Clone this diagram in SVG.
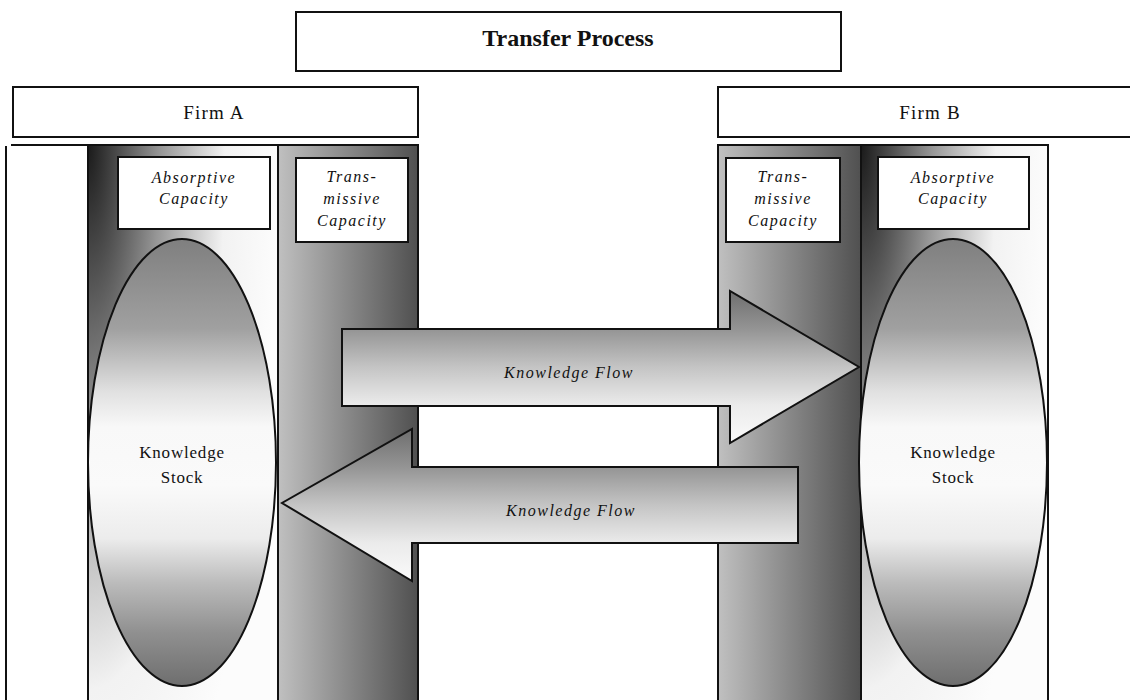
<svg xmlns="http://www.w3.org/2000/svg" width="1130" height="700" viewBox="0 0 1130 700">
<defs>
<style>
.box{fill:#fff;stroke:#111;stroke-width:2}
.col{stroke:#111;stroke-width:2}
.t{font-family:"Liberation Serif","Times New Roman",serif;fill:#111;text-anchor:middle}
.it{font-style:italic;font-size:16px;letter-spacing:1.5px}
.rg{font-size:17px;letter-spacing:0.8px}
.firm{font-size:19px;letter-spacing:1.2px}
.title{font-size:24px;font-weight:bold}
.flow{fill:url(#gArrow);stroke:#111;stroke-width:2;stroke-linejoin:miter}
.stock{fill:url(#gStock);stroke:#111;stroke-width:2}
</style>
<radialGradient id="gAbs" cx="0" cy="0" r="1" fx="0" fy="0" gradientTransform="scale(1,1.35)">
<stop offset="0" stop-color="#1a1a1a"/>
<stop offset="0.17" stop-color="#505050"/>
<stop offset="0.38" stop-color="#969696"/>
<stop offset="0.59" stop-color="#d0d0d0"/>
<stop offset="0.72" stop-color="#f2f2f2"/>
<stop offset="1" stop-color="#fcfcfc"/>
</radialGradient>
<linearGradient id="gTrans" x1="0" y1="0" x2="1" y2="0">
<stop offset="0" stop-color="#c0c0c0"/>
<stop offset="1" stop-color="#505050"/>
</linearGradient>
<linearGradient id="gStock" x1="0" y1="0" x2="0" y2="1">
<stop offset="0" stop-color="#7f7f7f"/>
<stop offset="0.2" stop-color="#a0a0a0"/>
<stop offset="0.34" stop-color="#e0e0e0"/>
<stop offset="0.42" stop-color="#f8f8f8"/>
<stop offset="0.55" stop-color="#fafafa"/>
<stop offset="0.67" stop-color="#ececec"/>
<stop offset="0.77" stop-color="#bbbbbb"/>
<stop offset="0.88" stop-color="#909090"/>
<stop offset="1" stop-color="#6e6e6e"/>
</linearGradient>
<linearGradient id="gArrow" x1="0" y1="0" x2="0" y2="1">
<stop offset="0" stop-color="#6e6e6e"/>
<stop offset="0.25" stop-color="#949494"/>
<stop offset="0.5" stop-color="#c4c4c4"/>
<stop offset="0.75" stop-color="#ebebeb"/>
<stop offset="1" stop-color="#fafafa"/>
</linearGradient>
</defs>
<rect width="1130" height="700" fill="#fff"/>

<g id="transfer-process">
<rect class="box" x="296" y="12" width="545" height="59"/>
<text class="t title" x="568" y="46">Transfer Process</text>
</g>

<g id="frame">
<line x1="6" y1="146" x2="6" y2="700" stroke="#111" stroke-width="2"/>
<line x1="11" y1="145" x2="418" y2="145" stroke="#111" stroke-width="2"/>
</g>

<g id="firm-a">
<rect class="box" x="13" y="87" width="405" height="50"/>
<text class="t firm" x="214" y="119">Firm A</text>
</g>

<g id="firm-b">
<rect class="box" x="718" y="87" width="424" height="50"/>
<text class="t firm" x="930" y="119">Firm B</text>
</g>

<g id="absorptive-a">
<rect class="col" x="88" y="145" width="190" height="560" fill="url(#gAbs)"/>
<rect class="box" x="118" y="157" width="152" height="72"/>
<text class="t it" x="194" y="183">Absorptive</text>
<text class="t it" x="194" y="204">Capacity</text>
</g>

<g id="transmissive-a">
<rect class="col" x="278" y="145" width="140" height="560" fill="url(#gTrans)"/>
<rect class="box" x="296" y="158" width="112" height="84"/>
<text class="t it" x="352" y="182">Trans-</text>
<text class="t it" x="352" y="204">missive</text>
<text class="t it" x="352" y="226">Capacity</text>
</g>

<g id="transmissive-b">
<rect class="col" x="718" y="145" width="143" height="560" fill="url(#gTrans)"/>
<rect class="box" x="726" y="158" width="114" height="84"/>
<text class="t it" x="783" y="182">Trans-</text>
<text class="t it" x="783" y="204">missive</text>
<text class="t it" x="783" y="226">Capacity</text>
</g>

<g id="absorptive-b">
<rect class="col" x="861" y="145" width="187" height="560" fill="url(#gAbs)"/>
<rect class="box" x="878" y="157" width="151" height="72"/>
<text class="t it" x="953" y="183">Absorptive</text>
<text class="t it" x="953" y="204">Capacity</text>
</g>

<g id="knowledge-stock-a">
<ellipse class="stock" cx="182" cy="462.5" rx="94" ry="223.5"/>
<text class="t rg" x="182" y="458">Knowledge</text>
<text class="t rg" x="182" y="483">Stock</text>
</g>

<g id="knowledge-stock-b">
<ellipse class="stock" cx="953" cy="462.5" rx="94" ry="223.5"/>
<text class="t rg" x="953" y="458">Knowledge</text>
<text class="t rg" x="953" y="483">Stock</text>
</g>

<g id="connectors">
<g id="flow-a-to-b">
<polygon class="flow" points="342,329 730,329 730,291 859,367 730,443 730,406 342,406"/>
<text class="t it" x="569" y="378">Knowledge Flow</text>
</g>
<g id="flow-b-to-a">
<polygon class="flow" points="798,467 412,467 412,429 282,503 412,581 412,543 798,543"/>
<text class="t it" x="571" y="516">Knowledge Flow</text>
</g>
</g>
</svg>
